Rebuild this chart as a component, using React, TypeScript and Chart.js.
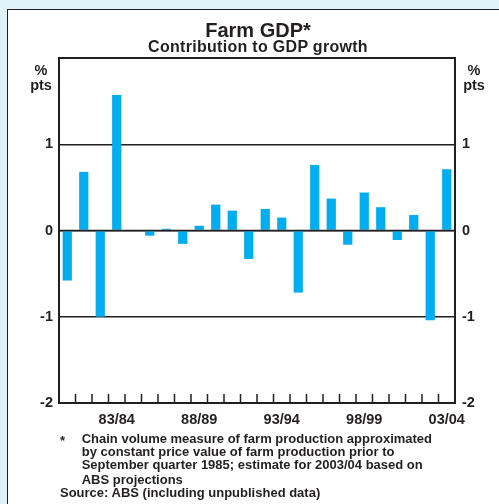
import React, { useEffect, useRef } from "react";
import { Chart, registerables } from "chart.js";

Chart.register(...registerables);

const categories: string[] = [
  "80/81", "81/82", "82/83", "83/84", "84/85", "85/86", "86/87", "87/88",
  "88/89", "89/90", "90/91", "91/92", "92/93", "93/94", "94/95", "95/96",
  "96/97", "97/98", "98/99", "99/00", "00/01", "01/02", "02/03", "03/04",
];

const contribution: number[] = [
  -0.58, 0.68, -1.0, 1.57, 0.0, -0.06, 0.02, -0.155, 0.055, 0.3, 0.23, -0.33,
  0.25, 0.15, -0.72, 0.76, 0.37, -0.165, 0.44, 0.27, -0.11, 0.18, -1.04, 0.71,
];

const labelledYears: string[] = ["83/84", "88/89", "93/94", "98/99", "03/04"];
const yMin = -2;
const yMax = 2;
const yStep = 1;

const INK = "#231f20";
const BAR = "#00aeef";
const FONT = "'Liberation Sans', Arial, Helvetica, sans-serif";

const footnoteLines: string[] = [
  "Chain volume measure of farm production approximated",
  "by constant price value of farm production prior to",
  "September quarter 1985; estimate for 2003/04 based on",
  "ABS projections",
];
const sourceLine = "Source: ABS (including unpublished data)";

const innerTicksPlugin = {
  id: "innerTicks",
  afterDatasetsDraw(chart: any) {
    const { ctx, chartArea, scales } = chart;
    const x = scales.x;
    ctx.save();
    ctx.strokeStyle = INK;
    ctx.lineWidth = 1.5;
    for (let i = 1; i < categories.length; i++) {
      const px = (x.getPixelForValue(i - 1) + x.getPixelForValue(i)) / 2;
      ctx.beginPath();
      ctx.moveTo(px, chartArea.bottom - 9);
      ctx.lineTo(px, chartArea.bottom);
      ctx.stroke();
    }
    // zero line over bars
    const y0 = scales.y.getPixelForValue(0);
    ctx.lineWidth = 1.5;
    ctx.beginPath();
    ctx.moveTo(chartArea.left, y0);
    ctx.lineTo(chartArea.right, y0);
    ctx.stroke();
    ctx.restore();
  },
};

function textStyle(
  left: number,
  top: number,
  size: number,
  extra: React.CSSProperties = {}
): React.CSSProperties {
  return {
    position: "absolute",
    left,
    top,
    fontFamily: FONT,
    fontWeight: "bold",
    fontSize: size,
    lineHeight: 1,
    color: INK,
    whiteSpace: "nowrap",
    ...extra,
  };
}

export default function App() {
  const canvasRef = useRef<HTMLCanvasElement | null>(null);

  useEffect(() => {
    if (!canvasRef.current) return;
    const tickFont = { family: FONT, size: 14.5, weight: "bold" as const };
    const yTickCallback = (v: any) => (Number(v) === yMax ? "" : String(v));
    const chart = new Chart(canvasRef.current, {
      type: "bar",
      data: {
        labels: categories,
        datasets: [
          {
            data: contribution,
            backgroundColor: BAR,
            borderWidth: 0,
            barPercentage: 0.56,
            categoryPercentage: 1,
          },
        ],
      },
      options: {
        responsive: false,
        animation: false,
        devicePixelRatio: 1,
        layout: { padding: { top: 58, left: 0, right: 0, bottom: 0 } },
        plugins: {
          legend: { display: false },
          tooltip: { enabled: false },
          title: { display: false },
        },
        scales: {
          x: {
            type: "category",
            offset: true,
            grid: { display: false, drawTicks: false },
            border: { display: true, color: INK, width: 2 },
            ticks: {
              autoSkip: false,
              maxRotation: 0,
              minRotation: 0,
              padding: 8,
              color: INK,
              font: tickFont,
              callback: (_v: any, i: number) =>
                labelledYears.includes(categories[i]) ? categories[i] : "",
            },
            afterFit: (s: any) => {
              s.height = 101;
            },
          },
          y: {
            position: "left",
            min: yMin,
            max: yMax,
            ticks: {
              stepSize: yStep,
              padding: 6,
              color: INK,
              font: tickFont,
              callback: yTickCallback,
            },
            grid: {
              drawTicks: false,
              color: INK,
              lineWidth: (ctx: any) => (ctx.tick && ctx.tick.value === yMax ? 2 : 1.5),
            },
            border: { display: true, color: INK, width: 2 },
            afterFit: (s: any) => {
              s.width = 59;
            },
          },
          y2: {
            position: "right",
            min: yMin,
            max: yMax,
            ticks: {
              stepSize: yStep,
              padding: 7,
              color: INK,
              font: tickFont,
              callback: yTickCallback,
            },
            grid: { display: false, drawTicks: false },
            border: { display: true, color: INK, width: 2 },
            afterFit: (s: any) => {
              s.width = 44;
            },
          },
        },
      },
      plugins: [innerTicksPlugin],
    });
    return () => chart.destroy();
  }, []);

  return (
    <div
      style={{
        position: "absolute",
        left: 0,
        top: 0,
        width: 499,
        height: 504,
        overflow: "hidden",
        background: "#dff1f9",
      }}
    >
      <div
        style={{
          position: "absolute",
          left: 6.5,
          top: 8.5,
          right: -2,
          bottom: -2,
          background: "#ffffff",
          borderLeft: `1.5px solid ${INK}`,
          borderTop: `1.5px solid ${INK}`,
        }}
      />
      <canvas
        ref={canvasRef}
        width={499}
        height={504}
        style={{ position: "absolute", left: 0, top: 0, width: 499, height: 504 }}
      />
      <div style={textStyle(0, 20.1, 20, { width: 516, textAlign: "center" })}>
        Farm GDP*
      </div>
      <div
        style={textStyle(0, 39, 16, {
          width: 516,
          textAlign: "center",
          letterSpacing: "0.3px",
        })}
      >
        Contribution to GDP growth
      </div>
      <div style={textStyle(21, 62.7, 14.5, { width: 40, textAlign: "center" })}>%</div>
      <div style={textStyle(21, 78.2, 14.5, { width: 40, textAlign: "center" })}>pts</div>
      <div style={textStyle(454, 62.7, 14.5, { width: 40, textAlign: "center" })}>%</div>
      <div style={textStyle(454, 78.2, 14.5, { width: 40, textAlign: "center" })}>pts</div>
      <div style={textStyle(60, 434, 13)}>*</div>
      {footnoteLines.map((line, i) => (
        <div key={i} style={textStyle(81.7, [431.7, 445, 458.3, 473][i], 13)}>
          {line}
        </div>
      ))}
      <div style={textStyle(60, 485.7, 13)}>{sourceLine}</div>
    </div>
  );
}
